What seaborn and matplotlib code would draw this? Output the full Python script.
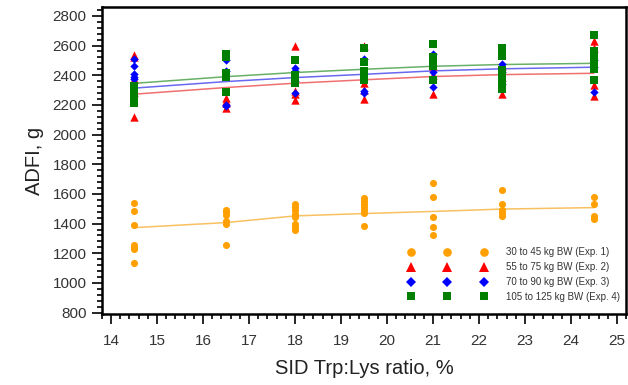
import numpy as np
import pandas as pd
import matplotlib
matplotlib.use("Agg")
import matplotlib.pyplot as plt
import seaborn as sns
from matplotlib.lines import Line2D
from matplotlib.ticker import MultipleLocator

# SID Trp:Lys levels (%)
trp = [14.5, 16.5, 18, 19.5, 21, 22.5, 24.5]

exp1_adfi = [
    [1540, 1485, 1390, 1257, 1242, 1227, 1133],
    [1490, 1475, 1460, 1420, 1400, 1255],
    [1535, 1510, 1490, 1465, 1445, 1395, 1375, 1355],
    [1570, 1550, 1530, 1510, 1490, 1470, 1385],
    [1675, 1580, 1445, 1375, 1320],
    [1625, 1535, 1490, 1470, 1450],
    [1582, 1535, 1450, 1440, 1430],
]
exp2_adfi = [
    [2535, 2520, 2375, 2290, 2120],
    [2245, 2225, 2210, 2180],
    [2600, 2295, 2270, 2235],
    [2600, 2350, 2300, 2240],
    [2460, 2400, 2270],
    [2460, 2390, 2275],
    [2630, 2580, 2335, 2260],
]
exp3_adfi = [
    [2510, 2460, 2405, 2390, 2375],
    [2500, 2430, 2200, 2190],
    [2450, 2430, 2360, 2280],
    [2510, 2295, 2280],
    [2540, 2420, 2320],
    [2475, 2420, 2340],
    [2500, 2455, 2285],
]
exp4_adfi = [
    [2330, 2300, 2270, 2250, 2230, 2210],
    [2540, 2525, 2415, 2400, 2385, 2285],
    [2500, 2400, 2380, 2360, 2345],
    [2580, 2490, 2425, 2400, 2385, 2370],
    [2610, 2520, 2500, 2480, 2460, 2370],
    [2580, 2530, 2435, 2415, 2360, 2335, 2305],
    [2670, 2560, 2540, 2490, 2440, 2365],
]

# fitted curves evaluated at each Trp:Lys level
exp1_fit = [1373, 1407, 1452, 1468, 1482, 1498, 1508]
exp2_fit = [2272, 2317, 2346, 2369, 2391, 2404, 2413]
exp3_fit = [2313, 2357, 2384, 2406, 2429, 2443, 2454]
exp4_fit = [2345, 2390, 2418, 2440, 2460, 2472, 2480]

labels = ["30 to 45 kg BW (Exp. 1)", "55 to 75 kg BW (Exp. 2)",
          "70 to 90 kg BW (Exp. 3)", "105 to 125 kg BW (Exp. 4)"]
point_colors = ["#FFA000", "#FF0000", "#0000FF", "#007F00"]
line_colors = ["#F8C060", "#F07070", "#6868F0", "#68B068"]
markers = ["o", "^", "D", "s"]
sizes = [26, 36, 18, 30]


def expand(groups):
    xs, ys = [], []
    for x, vals in zip(trp, groups):
        xs += [x] * len(vals)
        ys += vals
    return pd.DataFrame({"trp": xs, "adfi": ys})


sns.set_style("white")
plt.rcParams["font.family"] = ["Liberation Sans", "DejaVu Sans"]

fig = plt.figure(figsize=(6.28, 3.85), dpi=100)
ax = fig.add_axes([0.162, 0.184, 0.835, 0.798])

fits = [exp1_fit, exp2_fit, exp3_fit, exp4_fit]
for fit, c in zip(fits, line_colors):
    sns.lineplot(x=trp, y=fit, color=c, lw=1.1, ax=ax, zorder=2)

obs = [exp1_adfi, exp2_adfi, exp3_adfi, exp4_adfi]
for grp, c, m, s in zip(obs, point_colors, markers, sizes):
    df = expand(grp)
    sns.scatterplot(data=df, x="trp", y="adfi", color=c, marker=m, s=s,
                    linewidth=0, ax=ax, zorder=3)

ax.set_xlim(13.8, 25.2)
ax.set_ylim(790, 2860)
ax.xaxis.set_major_locator(MultipleLocator(1))
ax.xaxis.set_minor_locator(MultipleLocator(0.2))
ax.yaxis.set_major_locator(MultipleLocator(200))
ax.yaxis.set_minor_locator(MultipleLocator(40))
ax.tick_params(which="both", direction="out", bottom=True, left=True,
               top=False, right=False, color="black", width=1.2)
ax.tick_params(which="major", length=7, labelsize=11, labelcolor="#333333", pad=4)
ax.tick_params(which="minor", length=3.5)
ax.tick_params(axis="x", which="major", pad=7)
for sp in ax.spines.values():
    sp.set_color("black")
    sp.set_linewidth(1.8)

ax.set_xlabel("SID Trp:Lys ratio, %", fontsize=14.5, color="#222222", labelpad=8)
ax.set_ylabel("ADFI, g", fontsize=14.5, color="#222222", labelpad=6)

handles = [Line2D([0], [0], linestyle="none", marker=m, color=c,
                  markersize=ms, markeredgewidth=0)
           for c, m, ms in zip(point_colors, markers, [6.2, 7.2, 5.0, 6.2])]
ax.legend(handles, labels, loc="lower right", bbox_to_anchor=(0.988, 0.04),
          numpoints=3, handlelength=8.1, handletextpad=1.95, labelspacing=0.5,
          frameon=False, fontsize=7.0, borderpad=0, borderaxespad=0,
          labelcolor="#333333")

fig.savefig("out.png", dpi=100)
